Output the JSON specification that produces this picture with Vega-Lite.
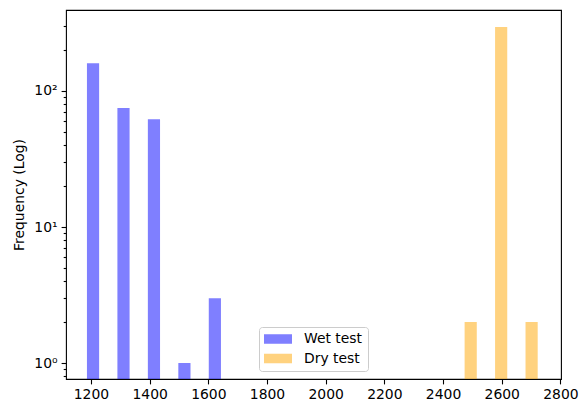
{
  "$schema": "https://vega.github.io/schema/vega-lite/v6.json",
  "description": "Log-scale histogram of wet and dry test values.",
  "autosize": "none",
  "width": 495,
  "height": 369,
  "padding": {"left": 66, "top": 10, "right": 26, "bottom": 34},
  "config": {
    "font": "DejaVu Sans",
    "view": {"stroke": "black", "strokeWidth": 1.1}
  },
  "data": {
    "values": [
      {"test": "Wet test", "bar_start": 1186.4, "bar_end": 1227.9, "frequency": 160},
      {"test": "Wet test", "bar_start": 1290.2, "bar_end": 1331.7, "frequency": 75},
      {"test": "Wet test", "bar_start": 1394.0, "bar_end": 1435.5, "frequency": 62},
      {"test": "Wet test", "bar_start": 1497.8, "bar_end": 1539.3, "frequency": 1},
      {"test": "Wet test", "bar_start": 1601.6, "bar_end": 1643.1, "frequency": 3},
      {"test": "Dry test", "bar_start": 2473.5, "bar_end": 2515.0, "frequency": 2},
      {"test": "Dry test", "bar_start": 2577.3, "bar_end": 2618.8, "frequency": 295},
      {"test": "Dry test", "bar_start": 2681.1, "bar_end": 2722.6, "frequency": 2}
    ]
  },
  "mark": {"type": "bar", "opacity": 0.5, "clip": true},
  "encoding": {
    "x": {
      "field": "bar_start",
      "type": "quantitative",
      "scale": {"domain": [1115, 2802], "nice": false, "zero": false},
      "axis": {
        "title": null,
        "values": [1200, 1400, 1600, 1800, 2000, 2200, 2400, 2600, 2800],
        "format": "d",
        "grid": false,
        "domain": false,
        "tickColor": "black",
        "tickWidth": 1.1,
        "tickSize": 4.9,
        "labelFontSize": 13.9,
        "labelColor": "black",
        "labelPadding": 4,
        "labelFlush": false
      }
    },
    "x2": {"field": "bar_end"},
    "y": {
      "field": "frequency",
      "type": "quantitative",
      "scale": {"type": "log", "domain": [0.763, 394], "nice": false},
      "axis": {
        "title": "Frequency (Log)",
        "titleFontSize": 13.9,
        "titleFontWeight": "normal",
        "titleColor": "black",
        "titlePadding": 7,
        "values": [0.8, 0.9, 1, 2, 3, 4, 5, 6, 7, 8, 9, 10, 20, 30, 40, 50, 60, 70, 80, 90, 100, 200, 300],
        "labelExpr": "datum.value == 1 ? '10⁰' : datum.value == 10 ? '10¹' : datum.value == 100 ? '10²' : ''",
        "grid": false,
        "domain": false,
        "tickColor": "black",
        "tickWidth": 1.1,
        "tickSize": {"condition": {"test": "datum.value == 1 || datum.value == 10 || datum.value == 100", "value": 4.9}, "value": 2.8},
        "labelFontSize": 13.9,
        "labelColor": "black",
        "labelPadding": 4,
        "labelFlush": false
      }
    },
    "y2": {"datum": 0.5},
    "color": {
      "field": "test",
      "type": "nominal",
      "scale": {"domain": ["Wet test", "Dry test"], "range": ["blue", "orange"]},
      "legend": {
        "title": null,
        "orient": "none",
        "legendX": 193,
        "legendY": 317,
        "fillColor": "rgba(255,255,255,0.8)",
        "strokeColor": "#cccccc",
        "cornerRadius": 3,
        "padding": 5,
        "symbolType": "M-1,-0.68H3V0.68H-1Z",
        "symbolSize": 196,
        "symbolOpacity": 0.5,
        "symbolStrokeWidth": 0,
        "labelFontSize": 13.9,
        "labelColor": "black",
        "labelOffset": 26,
        "rowPadding": 5.5
      }
    }
  }
}
